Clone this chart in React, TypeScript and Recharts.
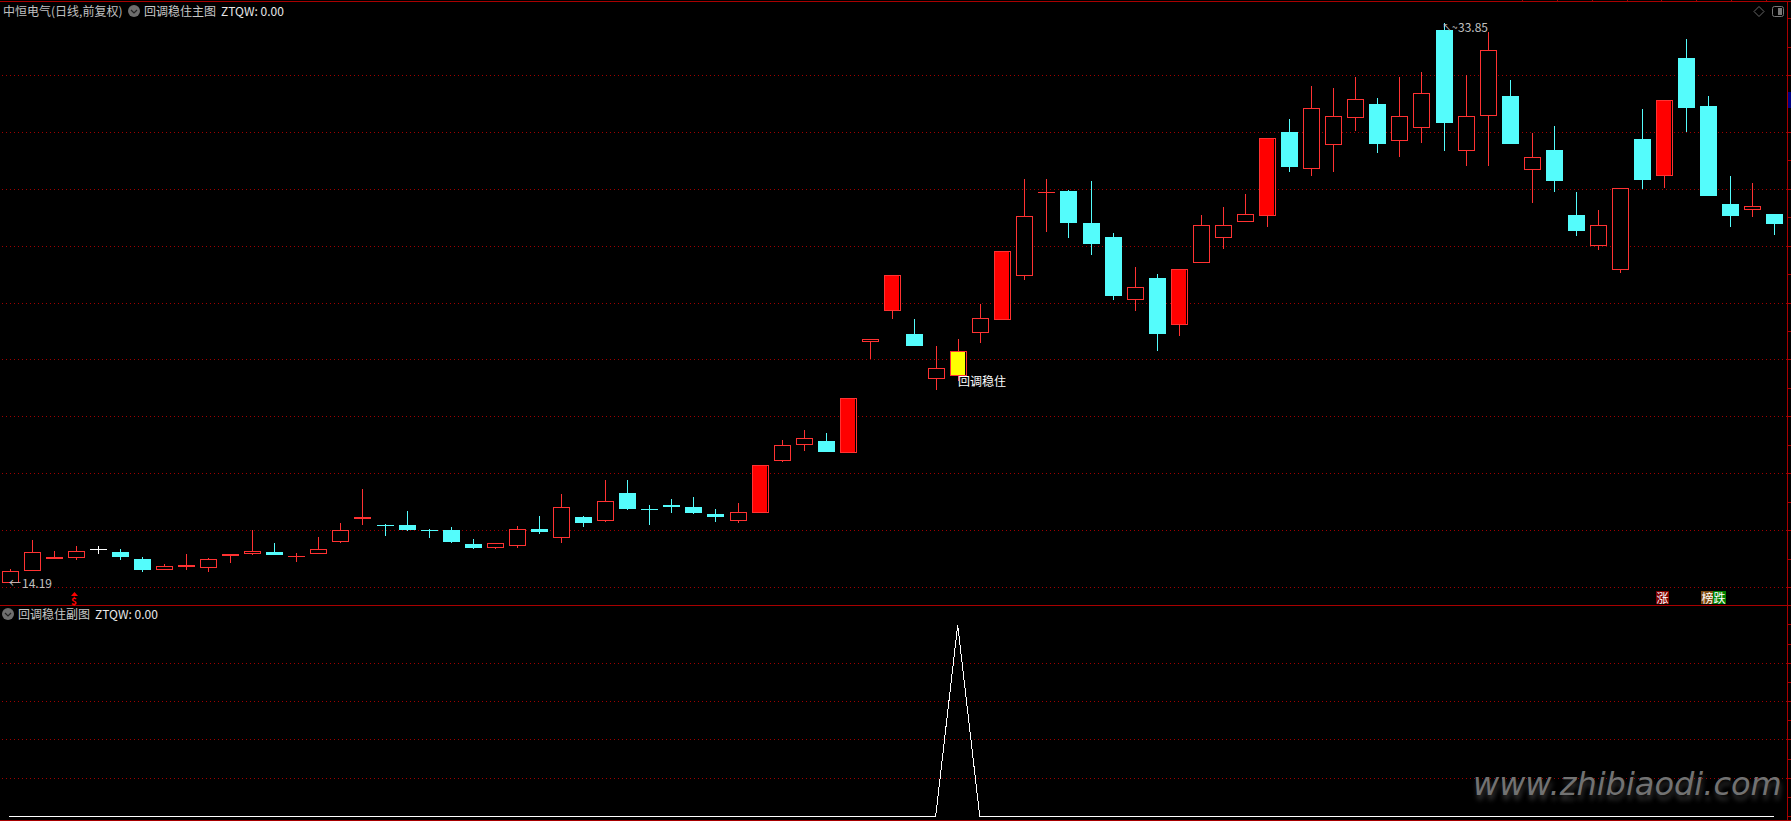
import React from "react";
import { ComposedChart, Bar, Line, XAxis, YAxis, CartesianGrid } from "recharts";

const opens = [14.19,14.60,15.02,15.09,15.34,15.26,15.01,14.65,14.74,14.72,15.13,15.20,15.26,15.10,15.23,15.65,16.43,16.20,16.20,16.02,16.03,15.54,15.44,15.48,16.06,15.79,16.49,16.36,17.33,16.76,16.91,16.84,16.59,16.36,16.64,18.50,19.06,19.16,18.78,22.67,23.77,22.91,21.35,21.47,23.00,23.45,25.00,27.92,27.94,26.81,26.32,24.15,24.88,23.28,25.45,26.33,26.89,27.10,30.01,28.76,29.60,30.55,30.99,29.74,30.20,33.59,29.39,30.62,31.27,28.72,29.38,27.09,26.05,25.18,29.76,28.51,32.61,30.92,27.48,27.32,27.13];
const highs = [14.66,15.68,15.29,15.47,15.47,15.36,15.07,14.83,15.19,15.04,15.19,16.02,15.57,15.22,15.77,16.26,17.47,16.23,16.70,16.06,16.13,15.71,15.56,16.17,16.52,17.29,16.52,17.79,17.79,16.91,17.12,17.19,16.76,16.98,18.30,19.19,19.54,19.44,20.65,22.74,24.99,23.44,22.49,22.74,23.97,25.82,28.35,28.35,27.99,28.29,26.46,25.27,25.02,25.18,27.09,27.37,27.83,29.82,30.47,31.62,31.55,31.94,31.20,31.94,32.12,33.85,32.01,33.52,31.84,29.97,30.22,27.90,27.27,28.06,30.82,31.13,33.28,31.27,28.46,28.22,27.13];
const lows = [14.19,14.60,15.02,14.95,15.19,14.95,14.53,14.60,14.63,14.56,14.85,15.13,15.13,14.88,15.23,15.55,16.18,15.82,15.99,15.75,15.55,15.36,15.37,15.40,15.89,15.57,16.13,16.32,16.73,16.20,16.63,16.59,16.31,16.28,16.64,18.42,18.80,18.77,18.78,22.02,23.44,22.49,20.95,21.26,22.60,23.45,24.82,26.51,26.29,25.69,24.11,23.72,22.32,22.85,25.41,25.90,26.86,26.67,28.60,28.47,28.60,30.04,29.27,29.13,29.62,29.34,28.81,28.81,29.59,27.51,27.90,26.36,25.86,25.06,28.01,28.04,30.00,27.76,26.67,27.02,26.39];
const closes = [14.58,15.24,15.07,15.28,15.34,15.09,14.63,14.75,14.79,15.00,15.19,15.28,15.16,15.10,15.35,16.02,16.47,16.15,16.03,16.00,15.61,15.40,15.56,16.05,15.96,16.82,16.27,17.05,16.77,16.75,16.84,16.63,16.49,16.65,18.30,19.00,19.25,18.77,20.65,22.74,24.99,22.49,21.71,22.31,23.46,25.82,27.05,27.92,26.81,26.07,24.25,24.55,22.91,25.18,26.73,26.76,27.12,29.82,28.78,30.87,30.56,31.19,29.59,30.59,31.40,30.33,30.59,32.88,29.59,29.12,28.29,26.53,26.73,28.06,28.32,31.13,30.85,27.76,27.06,27.41,26.78];
const solidDays = [34, 38, 40, 45, 53, 57, 75];
const signalDay = 43;
const whiteDay = 4;
const subPeak = 43;
const priceGrid = [14,16,18,20,22,24,26,28,30,32];
const priceTicks = [14,15,16,17,18,19,20,21,22,23,24,25,26,27,28,29,30,31,32,33,34];
const subGrid = [0.2,0.4,0.6,0.8];
const subTicks = [0,0.1,0.2,0.3,0.4,0.5,0.6,0.7,0.8,0.9,1];
const topTicks = [1522,1557,1592,1627,1661,1696,1731,1766];
const stockTitle = "中恒电气(日线,前复权)";
const mainTitle = "回调稳住主图";
const subTitle = "回调稳住副图";
const ztqwLabel = "ZTQW: 0.00";
const signalLabel = "回调稳住";
const lowLabel = "14.19";
const highLabel = "33.85";
const watermark = "www.zhibiaodi.com";

const priceData = opens.map((open, i) => ({
  day: i, open, high: highs[i], low: lows[i], close: closes[i], range: [lows[i], highs[i]],
}));
const subData = opens.map((_, i) => ({ day: i, ztqw: i === subPeak ? 1 : 0 }));

const RED = "#ff3232";
const CYAN = "#54fcfc";
const FRAME = "#a80000";
const DOT = "#a00000";
const CJK = '"Noto Sans CJK SC", "Liberation Sans", sans-serif';

function Candle(props: any) {
  const { x, y, width, height, payload } = props;
  const { open, high, low, close, day } = payload;
  const k = Math.abs(height) / (high - low);
  const py = (p: number) => y + (high - p) * k;
  const cx = Math.round(x + width / 2);
  const top = Math.round(py(Math.max(open, close)));
  const bot = Math.round(py(Math.min(open, close)));
  const hi = Math.round(py(high));
  const lo = Math.round(py(low));
  const down = close < open;
  const color = day === whiteDay ? "#ffffff" : down ? CYAN : RED;
  const wick = (
    <g shapeRendering="crispEdges">
      <line x1={cx + 0.5} x2={cx + 0.5} y1={hi} y2={top} stroke={color} />
      <line x1={cx + 0.5} x2={cx + 0.5} y1={bot} y2={lo} stroke={color} />
    </g>
  );
  const left = cx - 8;
  if (down) {
    return (
      <g shapeRendering="crispEdges">
        {wick}
        <rect x={left} y={top} width={17} height={Math.max(bot - top, 1)} fill={color} />
      </g>
    );
  }
  const solid = solidDays.includes(day);
  const signal = day === signalDay;
  return (
    <g shapeRendering="crispEdges">
      {wick}
      <rect x={left + 0.5} y={top + 0.5} width={16} height={Math.max(bot - top, 0.01)} fill="#000" stroke={color} />
      {(solid || signal) && (
        <rect x={left + 1} y={top + 1} width={14} height={bot - top - 1} fill={signal ? "#ffff00" : "#ff0000"} />
      )}
    </g>
  );
}

const NoTick = () => <g />;

function ChevronIcon({ left, top }: { left: number; top: number }) {
  return (
    <svg style={{ position: "absolute", left, top }} width={12} height={12}>
      <circle cx={6} cy={6} r={6} fill="#6e6e6e" />
      <path d="M3 5 L6 8 L9 5" fill="none" stroke="#222" strokeWidth={1.2} />
    </svg>
  );
}

function Txt({ left, top, color, children, size = 12, extra }: any) {
  return (
    <div
      style={{
        position: "absolute", left, top, color, fontSize: size, lineHeight: "14px",
        fontFamily: CJK, whiteSpace: "nowrap", ...extra,
      }}
    >
      {children}
    </div>
  );
}

function Tag({ left, bg, children }: any) {
  return (
    <div
      style={{
        position: "absolute", left, top: 591, width: 13, height: 13, background: bg, color: "#fff",
        fontSize: 12, lineHeight: "13px", textAlign: "center", fontFamily: CJK,
      }}
    >
      {children}
    </div>
  );
}

export default function App() {
  return (
    <div style={{ position: "absolute", left: 0, top: 0, width: 1791, height: 821, background: "#000", overflow: "hidden" }}>
      <div style={{ position: "absolute", left: -2, top: 0 }}>
        <ComposedChart width={1794} height={606} data={priceData} margin={{ top: 2, bottom: 1, left: 0, right: 0.5 }} barSize={17}>
          <CartesianGrid vertical={false} horizontalValues={priceGrid} stroke={DOT} strokeDasharray="1 3" shapeRendering="crispEdges" />
          <XAxis dataKey="day" hide scale="band" padding={{ left: 0, right: 2.44 }} />
          <YAxis orientation="right" width={4} domain={[13.385, 34.584]} allowDataOverflow ticks={priceTicks} interval={0} tickSize={3} tick={NoTick}
            axisLine={{ stroke: FRAME, shapeRendering: "crispEdges" }} tickLine={{ stroke: FRAME, shapeRendering: "crispEdges" }} />
          <Bar dataKey="range" shape={Candle} isAnimationActive={false} />
        </ComposedChart>
      </div>
      <div style={{ position: "absolute", left: -2, top: 606 }}>
        <ComposedChart width={1794} height={214} data={subData} margin={{ top: 0, bottom: 0, left: 0, right: 0.5 }}>
          <CartesianGrid vertical={false} horizontalValues={subGrid} stroke={DOT} strokeDasharray="1 3" shapeRendering="crispEdges" />
          <XAxis dataKey="day" hide scale="band" padding={{ left: 0, right: 2.44 }} />
          <YAxis orientation="right" width={4} domain={[-0.0183, 1.0992]} allowDataOverflow ticks={subTicks} interval={0} tickSize={3} tick={NoTick}
            axisLine={{ stroke: FRAME, shapeRendering: "crispEdges" }} tickLine={{ stroke: FRAME, shapeRendering: "crispEdges" }} />
          <Line dataKey="ztqw" type="linear" stroke="#ffffff" strokeWidth={1} shapeRendering="crispEdges" dot={false} isAnimationActive={false} />
        </ComposedChart>
      </div>

      <div style={{ position: "absolute", left: 0, top: 1, width: 1791, height: 1, background: FRAME }} />
      <div style={{ position: "absolute", left: 0, top: 605, width: 1791, height: 1, background: FRAME }} />
      <div style={{ position: "absolute", left: 0, top: 820, width: 1791, height: 1, background: FRAME }} />
      {topTicks.map((x) => (
        <div key={x} style={{ position: "absolute", left: x, top: 0, width: 1, height: 1, background: FRAME }} />
      ))}

      <Txt left={3} top={4} color="#c0c0c0">{stockTitle}</Txt>
      <ChevronIcon left={128} top={5} />
      <Txt left={144} top={4} color="#c8c8c8">{mainTitle}</Txt>
      <Txt left={221} top={4} color="#e8e8e8">{ztqwLabel}</Txt>

      <ChevronIcon left={2} top={608} />
      <Txt left={18} top={607} color="#c8c8c8">{subTitle}</Txt>
      <Txt left={95} top={607} color="#e8e8e8">{ztqwLabel}</Txt>

      <Txt left={9} top={576} color="#c0c0c0">←</Txt>
      <Txt left={22} top={576} color="#c0c0c0">{lowLabel}</Txt>
      <Txt left={1442} top={20} color="#c0c0c0" size={10}>↖~</Txt>
      <Txt left={1458} top={20} color="#c0c0c0">{highLabel}</Txt>
      <Txt left={958} top={374} color="#ffffff">{signalLabel}</Txt>
      <svg style={{ position: "absolute", left: 71, top: 592 }} width={7} height={4}>
        <path d="M3.5 0 L7 4 L0 4 Z" fill="#ff0000" />
      </svg>
      <Txt left={71} top={596} color="#ff0000" size={10} extra={{ fontWeight: 700, lineHeight: "9px" }}>$</Txt>

      <Tag left={1656} bg="#800000">涨</Tag>
      <Tag left={1701} bg="#7c4a10">榜</Tag>
      <Tag left={1713} bg="#008000">跌</Tag>

      <svg style={{ position: "absolute", left: 1752, top: 4 }} width={34} height={15}>
        <path d="M7 2.5 L12 7.5 L7 12.5 L2 7.5 Z" fill="none" stroke="#666" />
        <rect x={20.5} y={2.5} width={11} height={10} rx={2} fill="none" stroke="#777" />
        <rect x={26} y={4} width={4} height={7} fill="#777" />
      </svg>
      <div style={{ position: "absolute", left: 1788, top: 92, width: 3, height: 16, background: "#000080" }} />

      <div
        style={{
          position: "absolute", left: 1473, top: 764, color: "#727272", fontSize: 32, lineHeight: "40px",
          fontFamily: '"DejaVu Sans"', fontStyle: "italic", whiteSpace: "nowrap", textShadow: "1px 5px 5px rgba(110,110,110,0.5)",
        }}
      >
        {watermark}
      </div>
    </div>
  );
}
